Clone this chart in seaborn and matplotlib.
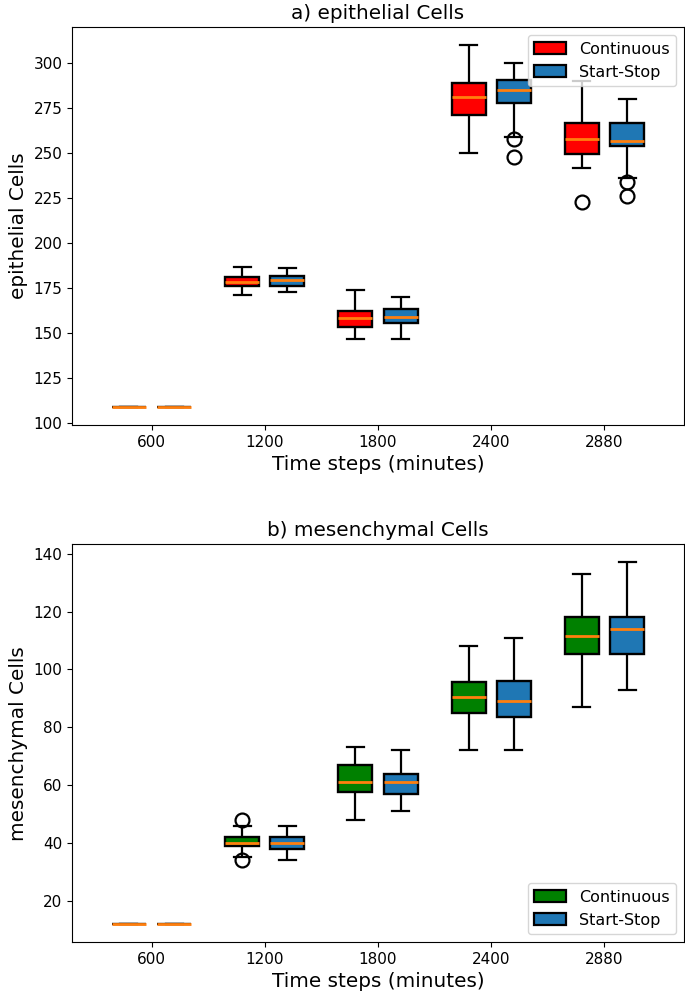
import matplotlib
matplotlib.use("Agg")
import matplotlib.pyplot as plt
from matplotlib.patches import Patch
import seaborn as sns
import pandas as pd

# ---- data ----
time_steps = ["600", "1200", "1800", "2400", "2880"]
modes = ["Continuous", "Start-Stop"]

# epithelial cells: whisker low, Q1, median, Q3, whisker high
epi_cont_wlo = [109, 171, 147, 250, 242]
epi_cont_q1 = [109, 176.5, 153.5, 271.5, 249.5]
epi_cont_med = [109, 178.5, 158.5, 281.5, 258]
epi_cont_q3 = [109, 181, 162.5, 289, 267]
epi_cont_whi = [109, 187, 174, 310, 290]
epi_cont_out = {"2880": [223]}

epi_ss_wlo = [109, 173, 147, 259, 236]
epi_ss_q1 = [109, 176.5, 155.5, 278, 254]
epi_ss_med = [109, 179.5, 159, 285, 257]
epi_ss_q3 = [109, 182, 163.5, 291, 267]
epi_ss_whi = [109, 186, 170, 300, 280]
epi_ss_out = {"2400": [248, 258], "2880": [226, 234]}

# mesenchymal cells
mes_cont_wlo = [12, 35, 48, 72, 87]
mes_cont_q1 = [12, 39, 57.5, 85, 105.3]
mes_cont_med = [12, 40, 61, 90.5, 111.5]
mes_cont_q3 = [12, 42, 67, 95.5, 118.2]
mes_cont_whi = [12, 46, 73, 108, 133]
mes_cont_out = {"1200": [34, 48]}

mes_ss_wlo = [12, 34, 51, 72, 93]
mes_ss_q1 = [12, 38, 57, 83.5, 105.3]
mes_ss_med = [12, 40, 61, 89, 114]
mes_ss_q3 = [12, 42, 64, 96, 118.2]
mes_ss_whi = [12, 46, 72, 111, 137]
mes_ss_out = {}


def group_sample(wlo, q1, med, q3, whi, outliers):
    """Sample whose box-plot statistics equal the read summary values."""
    low = [v for v in outliers if v < wlo]
    high = [v for v in outliers if v > whi]
    return low + [wlo] + [q1] * 10 + [med] * 10 + [q3] * 10 + [whi] + high


def build_frame(series):
    rows = []
    for mode, (wlo, q1, med, q3, whi, out) in series.items():
        for i, t in enumerate(time_steps):
            for v in group_sample(wlo[i], q1[i], med[i], q3[i], whi[i], out.get(t, [])):
                rows.append({"time": t, "mode": mode, "value": v})
    return pd.DataFrame(rows)


epi_df = build_frame({
    "Continuous": (epi_cont_wlo, epi_cont_q1, epi_cont_med, epi_cont_q3, epi_cont_whi, epi_cont_out),
    "Start-Stop": (epi_ss_wlo, epi_ss_q1, epi_ss_med, epi_ss_q3, epi_ss_whi, epi_ss_out),
})
mes_df = build_frame({
    "Continuous": (mes_cont_wlo, mes_cont_q1, mes_cont_med, mes_cont_q3, mes_cont_whi, mes_cont_out),
    "Start-Stop": (mes_ss_wlo, mes_ss_q1, mes_ss_med, mes_ss_q3, mes_ss_whi, mes_ss_out),
})

BLUE = "#1f77b4"
ORANGE = "#ff7f0e"

fig = plt.figure(figsize=(6.85, 10), dpi=100)
ax1 = fig.add_axes([0.1055, 0.575, 0.8926, 0.3977])
ax2 = fig.add_axes([0.1055, 0.058, 0.8926, 0.3977])

LABEL_FS = 14.4
TICK_FS = 11
LEGEND_FS = 11.5


def draw(ax, df, cont_color, title, ylabel, legend_loc):
    sns.boxplot(
        data=df, x="time", y="value", hue="mode",
        order=time_steps, hue_order=modes,
        palette={"Continuous": cont_color, "Start-Stop": BLUE},
        width=0.8, gap=0.25, linewidth=1.6, linecolor="black",
        saturation=1,
        boxprops=dict(edgecolor="black", linewidth=1.7),
        medianprops=dict(color=ORANGE, linewidth=2.0),
        whiskerprops=dict(color="black", linewidth=1.6),
        capprops=dict(color="black", linewidth=1.6),
        flierprops=dict(marker="o", markersize=10, markerfacecolor="none",
                        markeredgecolor="black", markeredgewidth=1.6),
        ax=ax,
    )
    ax.set_xlim(-0.7, 4.7)
    ax.set_title(title, fontsize=LABEL_FS)
    ax.set_xlabel("Time steps (minutes)", fontsize=LABEL_FS)
    ax.set_ylabel(ylabel, fontsize=LABEL_FS)
    ax.tick_params(labelsize=TICK_FS)
    if ax.get_legend() is not None:
        ax.get_legend().remove()
    handles = [
        Patch(facecolor=cont_color, edgecolor="black", linewidth=1.6, label="Continuous"),
        Patch(facecolor=BLUE, edgecolor="black", linewidth=1.6, label="Start-Stop"),
    ]
    ax.legend(handles=handles, loc=legend_loc, fontsize=LEGEND_FS)


draw(ax1, epi_df, "red", "a) epithelial Cells", "epithelial Cells", "upper right")
draw(ax2, mes_df, "green", "b) mesenchymal Cells", "mesenchymal Cells", "lower right")

fig.savefig("out.png", dpi=100)
